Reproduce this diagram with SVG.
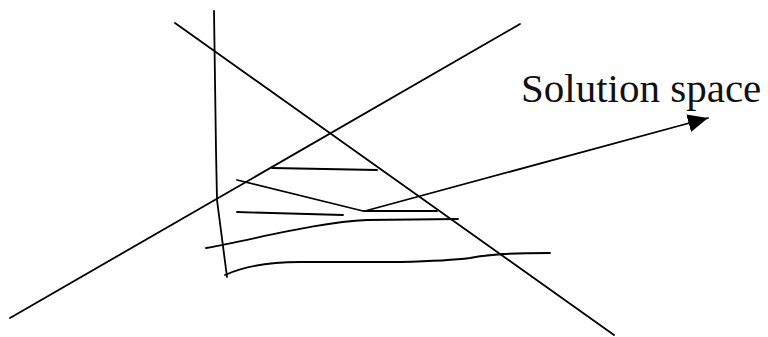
<svg xmlns="http://www.w3.org/2000/svg" width="768" height="337" viewBox="0 0 768 337">
<style>
.s{fill:none;stroke:#000;stroke-width:1.8;stroke-linecap:round;stroke-linejoin:round}
.t{font-family:"Liberation Serif","Times New Roman",serif;font-size:41px;fill:#111}
</style>
<defs>
<marker id="ah" markerWidth="22" markerHeight="18" refX="20" refY="9" orient="auto" markerUnits="userSpaceOnUse">
<path d="M0,0 L20,9 L0,18 Z" fill="#000"/>
</marker>
</defs>
<rect width="768" height="337" fill="#fff"/>
<g id="constraints">
<line class="s" x1="175" y1="23" x2="614" y2="335"/>
<line class="s" x1="10" y1="318" x2="520" y2="24"/>
<path class="s" d="M214,11 L216,150 L217,200 L227,277"/>
<line class="s" x1="272" y1="168" x2="377" y2="170"/>
<path class="s" d="M237,180 L363,211 L437,211"/>
<line class="s" x1="237" y1="212" x2="343" y2="215"/>
<path class="s" d="M206,248 C260,238 320,222 367,220 L458,219"/>
<path class="s" d="M225,275 C245,266 270,262 300,262 L400,262 C440,261 455,260 470,258 C490,254 510,253 550,253"/>
</g>
<g id="connectors">
<line class="s" x1="365" y1="211" x2="708" y2="118" marker-end="url(#ah)"/>
</g>
<g id="label">
<text class="t" x="521" y="102">Solution space</text>
</g>
</svg>
